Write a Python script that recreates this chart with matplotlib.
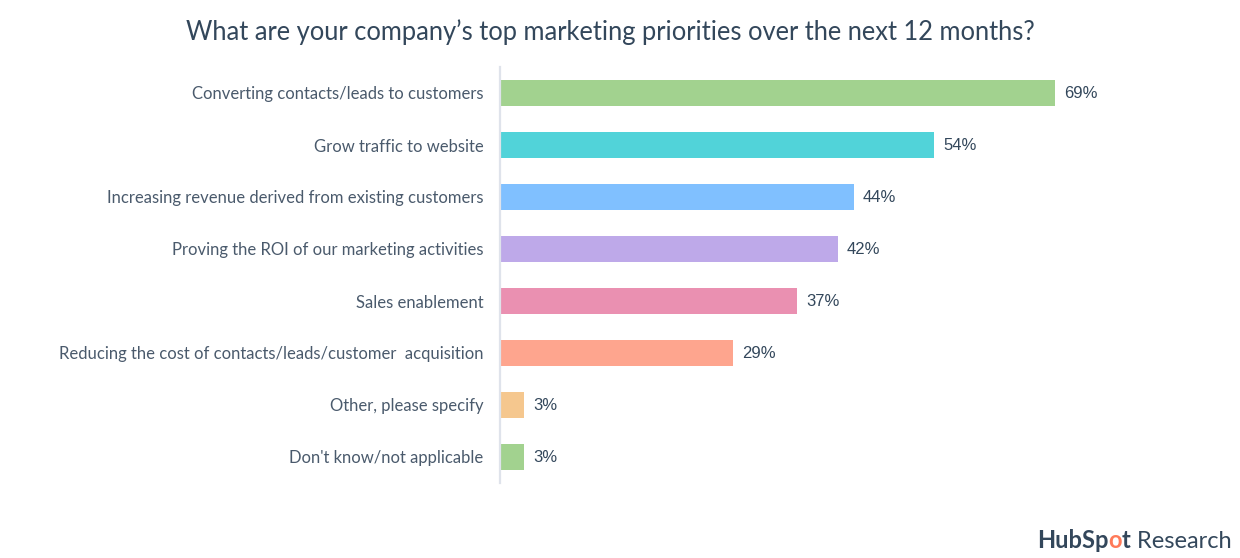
import matplotlib
matplotlib.use("Agg")
import matplotlib.pyplot as plt

categories = [
    "Converting contacts/leads to customers",
    "Grow traffic to website",
    "Increasing revenue derived from existing customers",
    "Proving the ROI of our marketing activities",
    "Sales enablement",
    "Reducing the cost of contacts/leads/customer  acquisition",
    "Other, please specify",
    "Don't know/not applicable",
]
values = [69, 54, 44, 42, 37, 29, 3, 3]
bar_colors = ["#a2d28f", "#51d3d9", "#80c0ff", "#bea9e9", "#ea90b1",
              "#fea58e", "#f5c78e", "#a2d28f"]
title = "What are your company\u2019s top marketing priorities over the next 12 months?"

W, H = 1240, 558
fig = plt.figure(figsize=(W / 100, H / 100), dpi=100)
fig.patch.set_facecolor("white")

# axes placed in pixel terms: zero line at x=500, bars from y=67 to 483
ax = fig.add_axes([500 / W, (H - 483) / H, (W - 500) / W, 416 / H])
px_per_pct = 8.04
ax.set_xlim(0, (W - 500) / px_per_pct)
ax.set_ylim(7.5, -0.5)

ypos = list(range(len(categories)))
ax.barh(ypos, values, height=0.5, color=bar_colors, zorder=2)

for y, v in zip(ypos, values):
    ax.annotate(f"{v}%", (v, y), xytext=(6.5, 0), textcoords="offset points",
                va="center", ha="left", fontsize=12, color="#33475b",
                family="Liberation Sans")

ax.set_yticks(ypos)
ax.set_yticklabels(categories, family="Lato", fontsize=12, color="#4a5a6c")
ax.tick_params(axis="y", length=0, pad=12)
ax.set_xticks([])

for side in ["top", "right", "bottom"]:
    ax.spines[side].set_visible(False)
ax.spines["left"].set_color("#dfe3eb")
ax.spines["left"].set_linewidth(1.6)

fig.text(610 / W, 1 - 32 / H, title, ha="center", va="center",
         family="Lato", fontsize=18.4, color="#33475b")

# HubSpot Research mark, bottom right
fig.canvas.draw()
r = fig.canvas.get_renderer()
x0 = 1037 / W
yb = 1 - 541 / H
parts = [("HubSp", "bold", "#33475b"), ("o", "bold", "#ff7a59"),
         ("t", "bold", "#33475b"), (" Research", "normal", "#33475b")]
x = x0
for s, wgt, col in parts:
    t = fig.text(x, yb, s, ha="left", va="center", family="Lato",
                 fontsize=17, weight=wgt, color=col)
    bb = t.get_window_extent(renderer=r)
    x += bb.width / W

fig.savefig("out.png", dpi=100, facecolor="white")
